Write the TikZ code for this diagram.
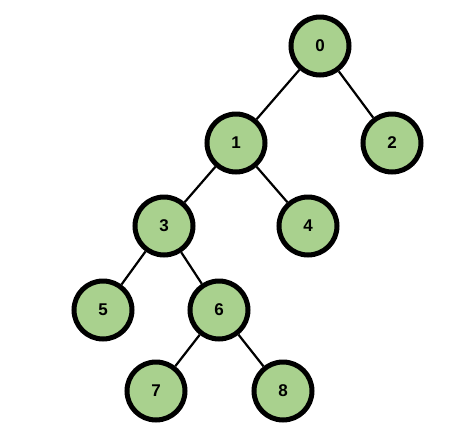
\documentclass[tikz,border=0pt]{standalone}
\usepackage{fontspec}
\setmainfont{Liberation Sans}
\definecolor{nodegreen}{HTML}{A9D18E}
\begin{document}
\begin{tikzpicture}[x=1pt,y=-1pt,
  treenode/.style={circle,draw=black,line width=5pt,fill=nodegreen,minimum size=58pt,inner sep=0pt,font=\fontsize{17}{20}\selectfont\bfseries},
  edge/.style={draw=black,line width=2.2pt}]
\useasboundingbox (0,0) rectangle (467,448);
\node[treenode] (n0) at (320,46) {0};
\node[treenode] (n1) at (236,143) {1};
\node[treenode] (n2) at (392,143) {2};
\node[treenode] (n3) at (164,226) {3};
\node[treenode] (n4) at (308,226) {4};
\node[treenode] (n5) at (103,310) {5};
\node[treenode] (n6) at (219,310) {6};
\node[treenode] (n7) at (156,391) {7};
\node[treenode] (n8) at (283,391) {8};
\draw[edge] (n0) -- (n1);
\draw[edge] (n0) -- (n2);
\draw[edge] (n1) -- (n3);
\draw[edge] (n1) -- (n4);
\draw[edge] (n3) -- (n5);
\draw[edge] (n3) -- (n6);
\draw[edge] (n6) -- (n7);
\draw[edge] (n6) -- (n8);
\end{tikzpicture}
\end{document}
